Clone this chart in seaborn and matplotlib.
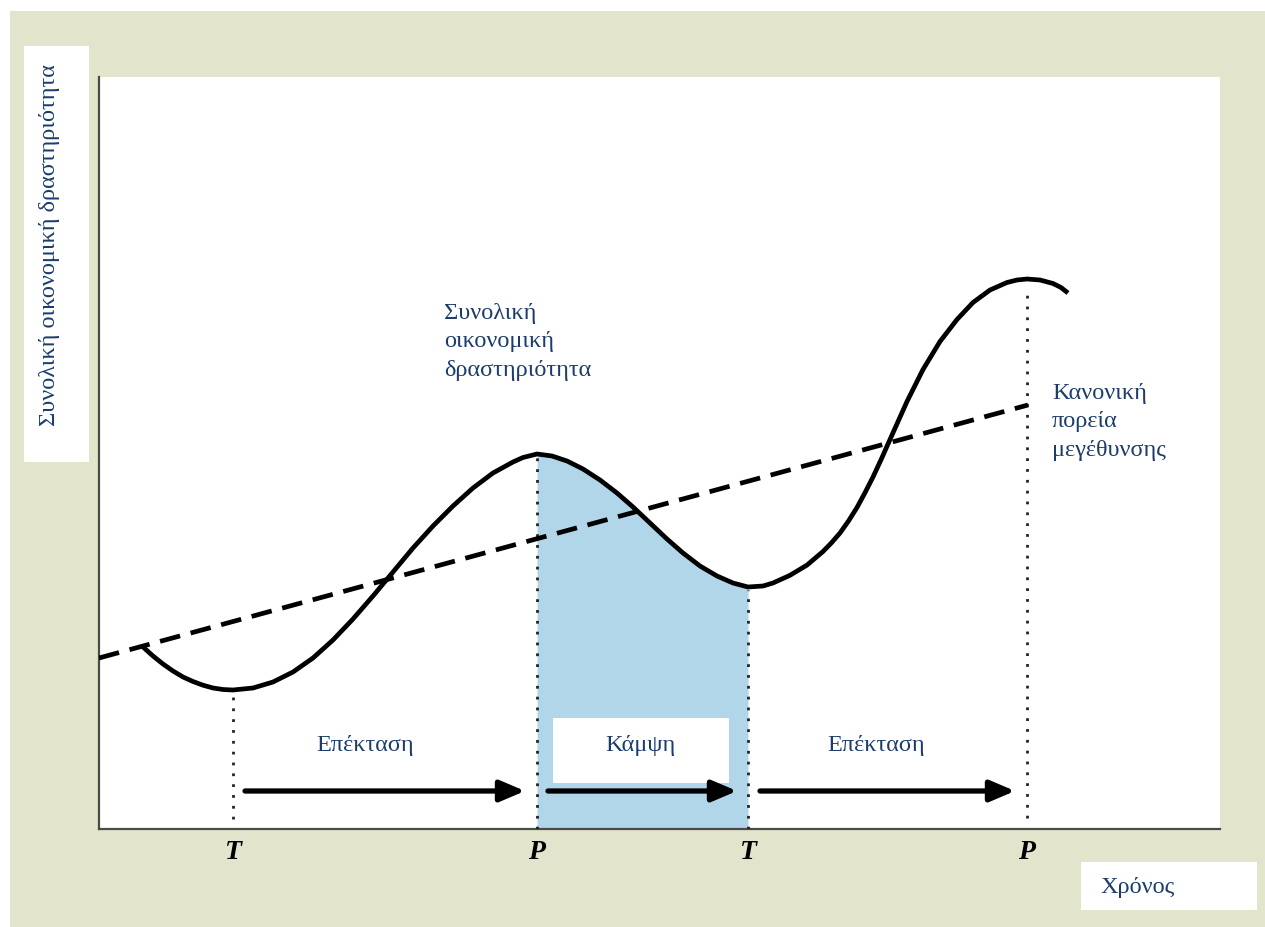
import matplotlib
matplotlib.use("Agg")
import matplotlib.pyplot as plt
import seaborn as sns
import numpy as np
from matplotlib.patches import Rectangle

# ---------------- data ----------------
time = [44, 54, 64, 74, 84, 94, 104, 114, 124, 134, 154, 174, 194, 214, 234,
        254, 274, 294, 314, 334, 354, 374, 394, 414, 424, 438, 453, 468, 484,
        501, 518, 534, 551, 568, 584, 601, 618, 634, 649, 664, 674, 691, 708,
        724, 732.5, 741, 749.5, 758, 766, 774, 782.5, 791, 808, 824, 841, 858,
        874, 891, 908, 918, 928, 941, 954, 962, 969]
activity = [182, 173, 165, 158, 152, 147.5, 143.8, 141, 139.5, 139, 141, 147,
            157, 171, 189, 210, 233, 257, 281, 303, 323, 341, 356, 367, 371.5,
            375, 373, 368, 360, 349, 336, 322, 306, 290, 276, 263, 253, 246,
            242, 243, 246, 253.7, 263.9, 277.5, 286.2, 296, 308, 321.5, 336.3,
            352, 370.3, 389.5, 427.5, 459.5, 487.5, 509.5, 526.5, 539, 546.5,
            549, 550, 549, 545.5, 541.5, 536]

trend_time = [0, 929]
trend_level = [171, 424]

turning_points = [134, 438, 649, 928]
turning_labels = ["T", "P", "T", "P"]
guide_top = [132, 376, 239, 539]
guide_bottom = [10, 0, 0, 11]

recession_start = 438
recession_end = 649

phase_labels = ["Επέκταση", "Κάμψη", "Επέκταση"]
phase_label_x = [266, 541, 777]
phase_label_y = 84
phase_start = [146, 449, 661]
phase_end = [426, 638, 916]
phase_arrow_y = 38

curve_label = "Συνολική\nοικονομική\nδραστηριότητα"
trend_label = "Κανονική\nπορεία\nμεγέθυνσης"
y_title = "Συνολική οικονομική δραστηριότητα"
x_title = "Χρόνος"

# ---------------- style ----------------
sns.set_theme(style="white")
plt.rcParams["font.family"] = ["Liberation Serif", "DejaVu Serif"]
TEXT = "#1c3c6c"
BEIGE = "#E2E4CB"
SHADE = "#B1D6E9"
FS = 17.5

W, H = 1265, 927
fig = plt.figure(figsize=(W / 100, H / 100), dpi=100)
fig.patch.set_facecolor("white")
fig.add_artist(Rectangle((10 / W, 0), 1 - 10 / W, (H - 11) / H,
                         transform=fig.transFigure, facecolor=BEIGE,
                         edgecolor="none", zorder=-10))
# white box behind y title
fig.add_artist(Rectangle((24 / W, (H - 462) / H), 65 / W, 416 / H,
                         transform=fig.transFigure, facecolor="white",
                         edgecolor="none", zorder=-5))
# white box behind x title
fig.add_artist(Rectangle((1081 / W, (H - 910) / H), 176 / W, 48 / H,
                         transform=fig.transFigure, facecolor="white",
                         edgecolor="none", zorder=-5))

ax = fig.add_axes([99 / W, (H - 829) / H, 1121 / W, 752 / H])
ax.set_facecolor("white")
ax.set_xlim(0, 1121)
ax.set_ylim(0, 752)

t = np.array(time)
a = np.array(activity)

# recession shading
mask = (t >= recession_start) & (t <= recession_end)
ax.fill_between(t, 0, a, where=mask, color=SHADE, linewidth=0, zorder=1)

# white box for "Κάμψη"
ax.add_patch(Rectangle((454, 46), 176, 65, facecolor="white",
                       edgecolor="none", zorder=2))

# dotted guides
for x0, y0, y1 in zip(turning_points, guide_bottom, guide_top):
    ax.plot([x0, x0], [y0, y1], color="#222222", lw=2.0,
            linestyle=(0, (1, 2.9)), zorder=3)

# trend (dashed) and activity curve
sns.lineplot(x=trend_time, y=trend_level, ax=ax, color="black", lw=3.4,
             zorder=4)
ax.lines[-1].set_linestyle((0, (4.4, 2.3)))
ax.lines[-1].set_dash_capstyle("butt")
sns.lineplot(x=time, y=activity, ax=ax, color="black", lw=3.4, zorder=5)
ax.lines[-1].set_solid_capstyle("butt")
ax.lines[-1].set_solid_joinstyle("round")

# phase arrows
for s, e in zip(phase_start, phase_end):
    ax.annotate("", xy=(e, phase_arrow_y), xytext=(s, phase_arrow_y),
                arrowprops=dict(arrowstyle="-|>,head_length=0.75,head_width=0.32",
                                mutation_scale=20, lw=3.8, color="black",
                                shrinkA=0, shrinkB=0),
                zorder=6)

# phase labels
for lbl, x0 in zip(phase_labels, phase_label_x):
    ax.text(x0, phase_label_y, lbl, ha="center", va="center",
            color=TEXT, fontsize=FS, zorder=7)

ax.text(345, 487, curve_label, ha="left", va="center", color=TEXT,
        fontsize=FS, linespacing=1.49)
ax.text(953, 407, trend_label, ha="left", va="center", color=TEXT,
        fontsize=FS, linespacing=1.49)

# axes
for sp in ["top", "right"]:
    ax.spines[sp].set_visible(False)
for sp in ["left", "bottom"]:
    ax.spines[sp].set_color("#4a4a4a")
    ax.spines[sp].set_linewidth(1.6)
ax.set_yticks([])
ax.set_xticks(turning_points)
ax.set_xticklabels(turning_labels, fontsize=20, fontweight="bold",
                   fontstyle="italic", color="black")
ax.tick_params(axis="x", length=0, pad=8)

ax.set_ylabel(y_title, fontsize=FS, color=TEXT, va="center", ha="center")
ax.yaxis.set_label_coords((50 - 99) / 1121, (829 - 245) / 752)
ax.set_xlabel(x_title, fontsize=FS, color=TEXT, ha="left", va="center")
ax.xaxis.set_label_coords((1100 - 99) / 1121, (829 - 888) / 752)

fig.savefig("out.png", dpi=100, facecolor=fig.get_facecolor())
